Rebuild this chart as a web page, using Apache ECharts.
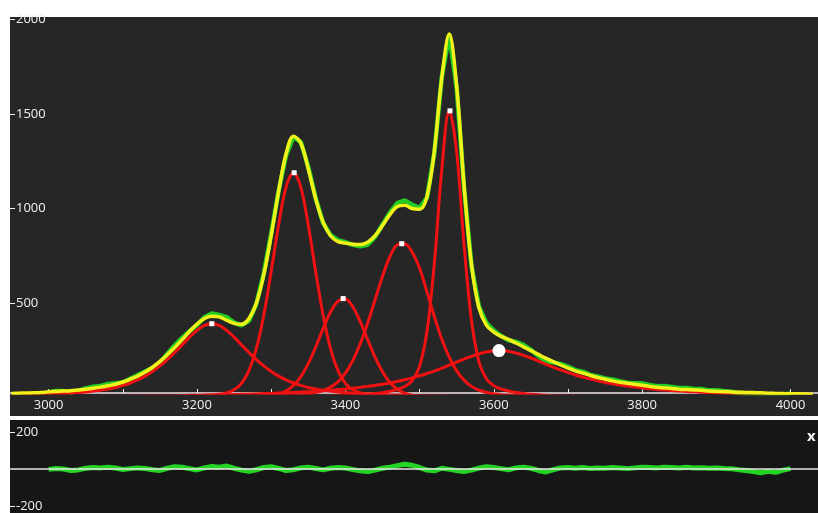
<!DOCTYPE html>
<html><head><meta charset="utf-8">
<script src="https://cdn.jsdelivr.net/npm/echarts@6/dist/echarts.min.js"></script>
<style>html,body{margin:0;padding:0;background:#ffffff;}#c{width:818px;height:513px;}</style>
</head><body><div id="c"></div>
<script>
// model grid (cm-1)
const wavenumber = [
2950,2960,2970,2980,2990,3000,3010,3020,3030,3040,
3050,3060,3070,3080,3090,3100,3110,3120,3130,3140,
3150,3160,3170,3180,3190,3200,3210,3220,3230,3240,
3250,3260,3270,3280,3290,3300,3310,3320,3330,3340,
3350,3360,3370,3380,3390,3400,3410,3420,3430,3440,
3450,3460,3470,3480,3490,3500,3510,3520,3530,3540,
3550,3560,3570,3580,3590,3600,3610,3620,3630,3640,
3650,3660,3670,3680,3690,3700,3710,3720,3730,3740,
3750,3760,3770,3780,3790,3800,3810,3820,3830,3840,
3850,3860,3870,3880,3890,3900,3910,3920,3930,3940,
3950,3960,3970,3980,3990,4000,4010,4020,4030];

const peak1 = [
13,14,15,16,18,19,21,23,25,28,
31,36,41,47,55,66,79,95,115,140,
169,202,240,280,321,357,383,392,383,357,
321,280,240,202,169,140,115,95,79,66,
55,47,41,36,31,28,25,23,21,19,
18,16,15,14,13,12,11,11,10,9,
9,8,8,7,7,7,6,6,6,5,
5,5,5,5,4,4,4,4,4,4,
3,3,3,3,3,3,3,3,3,3,
2,2,2,2,2,2,2,2,2,2,
2,2,2,2,2,2,2,2,1];

const peak2 = [
1,1,1,1,1,2,2,2,2,2,
2,2,3,3,3,4,4,4,5,5,
6,7,7,8,9,11,13,15,19,27,
43,77,144,260,437,667,914,1113,1190,1113,
914,667,437,260,144,77,43,27,19,15,
13,11,9,8,7,7,6,6,5,5,
4,4,4,3,3,3,3,3,3,2,
2,2,2,2,2,2,2,2,2,2,
2,2,2,2,2,2,1,1,1,1,
1,1,1,1,1,1,1,1,1,1,
1,1,1,1,1,1,1,1,1];

const peak3 = [
1,1,1,1,1,1,1,1,1,1,
1,1,1,1,1,1,2,2,2,2,
2,2,2,2,2,2,3,3,3,3,
3,4,5,6,8,12,20,36,66,113,
181,269,366,454,512,523,482,403,308,215,
138,82,46,25,14,9,6,5,4,4,
3,3,2,2,2,2,2,2,2,2,
2,2,2,2,2,2,1,1,1,1,
1,1,1,1,1,1,1,1,1,1,
1,1,1,1,1,1,1,1,1,1,
1,1,1,1,1,1,1,1,1];

const peak4 = [
2,2,2,2,2,2,2,2,2,2,
3,3,3,3,3,3,3,3,3,3,
4,4,4,4,4,4,4,4,5,5,
6,6,7,8,9,10,11,13,14,17,
21,28,39,57,85,131,197,286,395,519,
642,746,809,815,770,685,560,429,310,215,
143,94,61,41,29,22,17,15,13,12,
10,9,8,8,7,6,6,6,5,5,
5,4,4,4,4,4,3,3,3,3,
3,3,3,3,2,2,2,2,2,2,
2,2,2,2,2,2,2,2,2];

const peak5 = [
1,1,1,1,1,1,1,1,1,1,
1,1,1,1,1,1,1,1,1,1,
1,1,1,1,1,2,2,2,2,2,
3,3,3,3,4,4,4,5,5,6,
7,7,8,9,10,12,14,16,19,23,
28,35,45,60,91,167,352,715,1207,1517,
1298,808,409,192,101,65,47,37,29,24,
20,17,14,12,11,10,9,8,7,6,
6,5,5,5,4,4,4,3,3,3,
3,3,3,3,2,2,2,2,2,2,
2,2,1,1,1,1,1,1,1];

const peak6 = [
6,6,6,6,6,7,7,7,7,8,
8,8,8,9,9,9,10,10,11,11,
11,12,12,13,14,14,15,16,16,17,
18,19,20,21,23,24,26,27,29,31,
33,35,38,41,44,47,51,56,61,66,
72,79,87,96,106,117,129,142,157,173,
189,205,220,233,243,249,250,246,237,225,
211,195,179,163,148,134,121,110,100,90,
82,75,68,63,58,53,49,45,42,39,
36,34,32,30,28,26,25,23,22,21,
20,19,18,17,16,15,15,14,13];

const fitSum = [
24,25,26,27,29,32,34,36,38,42,
46,51,57,64,72,84,99,115,137,162,
193,228,266,308,351,390,420,432,428,411,
394,389,419,500,650,857,1090,1289,1383,1346,
1211,1053,929,857,826,818,812,811,823,857,
911,969,1011,1018,1001,997,1064,1308,1693,1923,
1646,1122,704,478,385,348,325,309,290,270,
250,230,210,192,174,158,143,131,119,108,
99,90,83,78,72,67,61,56,53,50,
46,44,42,40,36,34,33,31,30,29,
28,27,25,24,23,22,22,21,19];

// measured spectrum 3000..4000
const measured = [
30,37,36,30,37,50,59,63,74,77,
81,101,121,140,158,185,232,278,317,353,
385,426,446,438,427,398,383,407,496,658,
869,1093,1281,1379,1352,1221,1056,924,861,834,
823,809,801,809,851,915,979,1029,1044,1021,
1005,1058,1298,1697,1921,1638,1108,698,483,397,
356,327,305,296,280,254,222,194,188,180,
166,147,139,122,114,103,98,88,80,78,
77,69,62,63,58,52,53,47,47,40,
40,36,33,26,21,14,7,13,6,17,
24];

const residual = [
-2,3,0,-8,-5,4,8,6,10,5,
-3,2,6,3,-4,-8,4,12,9,2,
-5,6,14,10,16,4,-6,-12,-4,8,
12,3,-8,-4,6,10,3,-5,4,8,
5,-3,-10,-14,-6,4,10,18,26,20,
8,-6,-10,4,-2,-8,-14,-6,5,12,
8,2,-4,6,10,4,-8,-16,-4,6,
8,4,8,3,6,4,8,5,2,6,
10,8,6,10,8,6,9,5,7,4,
6,3,2,-4,-8,-14,-20,-12,-18,-6,
2];

const peakCenters = [3220, 3331, 3397, 3476, 3541];
const peakHeights = [392, 1190, 525, 815, 1517];
const broadCenter = [3607];
const broadHeight = [250];

const xLabelValues = [3000, 3200, 3400, 3600, 3800, 4000];
const xTickValues = [3000, 3100, 3200, 3300, 3400, 3500, 3600, 3700, 3800, 3900, 4000];
const yLabelValues = [500, 1000, 1500, 2000];
const residLabelValues = [-200, 200];

const measuredX = wavenumber.slice(5, 106);
const pairs = (xs, ys) => xs.map((x, i) => [x, ys[i]]);
const plain = (v) => String(v);

const FONT = '"Open Sans", "Liberation Sans", sans-serif';
const LBL = '#f1eef5';

const redLine = (arr) => ({
  type: 'line', xAxisIndex: 0, yAxisIndex: 0, data: pairs(wavenumber, arr),
  showSymbol: false, smooth: 0.35, z: 3, silent: true,
  lineStyle: { color: '#f01212', width: 3 }
});

const chart = echarts.init(document.getElementById('c'), null, { renderer: 'canvas' });
chart.setOption({
  animation: false,
  backgroundColor: '#ffffff',
  graphic: [
    { type: 'rect', shape: { x: 10, y: 17, width: 808, height: 399 }, style: { fill: '#262626' }, z: -10, silent: true },
    { type: 'rect', shape: { x: 10, y: 420, width: 808, height: 93 }, style: { fill: '#161616' }, z: -10, silent: true },
    { type: 'text', x: 807, y: 429, style: { text: 'x', fill: '#f4f4f4', font: 'bold 15px ' + FONT }, z: 10 }
  ],
  grid: [
    { left: 10, top: 17, width: 808, height: 376 },
    { left: 10, top: 420, width: 808, height: 93 }
  ],
  xAxis: [
    { type: 'value', gridIndex: 0, min: 2948, max: 4037,
      axisLine: { show: true, lineStyle: { color: '#efe3ea', width: 1.5 } },
      axisTick: { show: true, inside: true, length: 4, customValues: xTickValues, lineStyle: { color: '#f4f4f4', width: 1 } },
      axisLabel: { customValues: xLabelValues, formatter: plain, color: LBL, fontSize: 13, fontFamily: FONT, margin: 6 },
      splitLine: { show: false } },
    { type: 'value', gridIndex: 1, min: 2948, max: 4037, show: false, splitLine: { show: false } }
  ],
  yAxis: [
    { type: 'value', gridIndex: 0, min: 26, max: 2013,
      axisLine: { show: false },
      axisTick: { show: true, inside: true, length: 5, customValues: yLabelValues, lineStyle: { color: '#f4f4f4' } },
      axisLabel: { inside: true, customValues: yLabelValues, formatter: plain, color: LBL, fontSize: 13, fontFamily: FONT, margin: 6 },
      splitLine: { show: false } },
    { type: 'value', gridIndex: 1, min: -238, max: 265,
      axisLine: { show: false },
      axisTick: { show: true, inside: true, length: 5, customValues: residLabelValues, lineStyle: { color: '#f4f4f4' } },
      axisLabel: { inside: true, customValues: residLabelValues, formatter: plain, color: LBL, fontSize: 13, fontFamily: FONT, margin: 6 },
      splitLine: { show: false } }
  ],
  series: [
    { type: 'line', xAxisIndex: 0, yAxisIndex: 0, data: pairs(measuredX, measured),
      showSymbol: false, z: 2, silent: true,
      lineStyle: { color: '#22cc22', width: 4.5 } },
    redLine(peak1), redLine(peak2), redLine(peak3), redLine(peak4), redLine(peak5), redLine(peak6),
    { type: 'line', xAxisIndex: 0, yAxisIndex: 0, data: pairs(wavenumber, fitSum),
      showSymbol: false, smooth: 0.35, z: 4, silent: true,
      lineStyle: { color: '#f2f21a', width: 3.5 } },
    { type: 'scatter', xAxisIndex: 0, yAxisIndex: 0, data: pairs(peakCenters, peakHeights),
      symbol: 'rect', symbolSize: 5, z: 5, silent: true, itemStyle: { color: '#ffffff', opacity: 1 } },
    { type: 'scatter', xAxisIndex: 0, yAxisIndex: 0, data: pairs(broadCenter, broadHeight),
      symbol: 'circle', symbolSize: 13, z: 5, silent: true, itemStyle: { color: '#ffffff', opacity: 1 } },
    { type: 'line', xAxisIndex: 1, yAxisIndex: 1, data: pairs(measuredX, residual),
      showSymbol: false, z: 2, silent: true,
      lineStyle: { color: '#24d424', width: 5 },
      markLine: { silent: true, symbol: 'none', label: { show: false },
        lineStyle: { color: '#e6e6e6', width: 1.5, type: 'solid' }, data: [{ yAxis: 0 }] } }
  ]
});
</script></body></html>
